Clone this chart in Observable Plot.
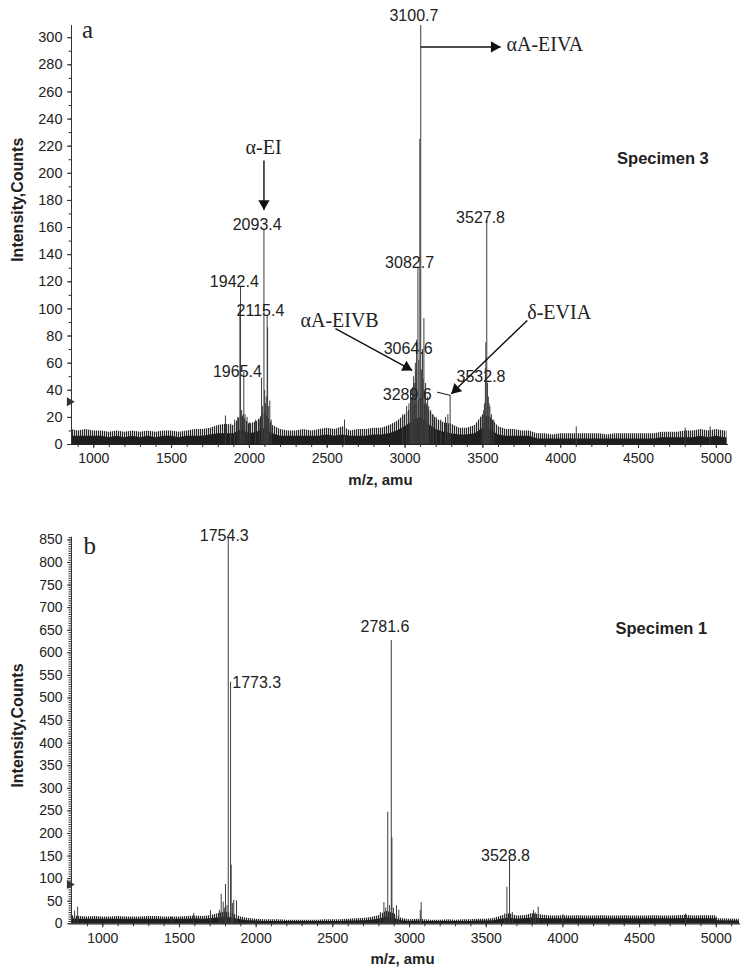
<!DOCTYPE html>
<html><head><meta charset="utf-8">
<script src="https://cdn.jsdelivr.net/npm/d3@7"></script>
<script src="https://cdn.jsdelivr.net/npm/@observablehq/plot@0.6"></script>
<style>
body{margin:0;background:#fff;}
#chart svg{display:block;}
</style>
</head><body>
<svg width="0" height="0" style="position:absolute">
  <defs>
    <pattern id="vlines" width="2" height="6" patternUnits="userSpaceOnUse">
      <rect x="0" y="0" width="1.2" height="6" fill="#262626"></rect>
    </pattern>
  </defs>
</svg>
<div id="chart"></div>
<script>
// ---------- data ----------
const xTickValues = [1000, 1500, 2000, 2500, 3000, 3500, 4000, 4500, 5000];
const topYTickValues = [0, 20, 40, 60, 80, 100, 120, 140, 160, 180, 200, 220, 240, 260, 280, 300];
const botYTickValues = [0, 50, 100, 150, 200, 250, 300, 350, 400, 450, 500, 550, 600, 650, 700, 750, 800, 850];

// Specimen 3 (panel a) peaks
const topPeakMz  = [1846, 1880, 1905, 1925, 1939, 1943, 1950, 1960, 1964, 1972, 1985, 2000, 2040, 2063, 2078, 2085, 2093.4, 2098, 2103, 2108, 2114, 2117, 2124, 2131, 2140, 2611,
                    2985, 3010, 3025, 3035, 3042, 3048, 3055, 3060, 3066, 3070, 3074, 3082.7, 3088, 3095, 3100.7, 3105, 3112, 3116, 3121, 3127, 3132, 3138, 3145, 3152, 3165, 3180, 3200, 3230, 3260, 3275, 3289.6,
                    3495, 3505, 3510, 3516, 3519, 3525, 3530, 3535, 3540, 3545, 3555, 3570, 4100, 4800, 4960];
const topPeakInt = [21, 15, 18, 20, 100, 116, 25, 22, 53, 22, 20, 16, 18, 18, 49, 28, 158, 40, 30, 35, 95, 86, 28, 32, 18, 18,
                    22, 28, 30, 40, 35, 42, 50, 45, 60, 55, 77, 130, 62, 225, 309, 55, 70, 48, 93, 38, 45, 30, 35, 28, 25, 22, 20, 18, 20, 22, 36,
                    20, 25, 30, 56, 75, 165, 45, 35, 30, 28, 22, 18, 13, 12, 13];

// Specimen 3 baseline noise envelope
const topNoiseMz   = [857, 900, 950, 1000, 1050, 1100, 1150, 1200, 1250, 1300, 1350, 1400, 1450, 1500, 1550, 1600, 1650, 1700, 1750, 1800, 1850, 1900, 1950, 2000, 2050, 2100, 2150, 2200, 2250, 2300, 2350, 2400, 2450, 2500, 2550, 2600, 2650, 2700, 2750, 2800, 2850, 2900, 2950, 3000, 3050, 3100, 3150, 3200, 3250, 3300, 3350, 3400, 3450, 3500, 3550, 3600, 3650, 3700, 3750, 3800, 3850, 3900, 3950, 4000, 4050, 4100, 4150, 4200, 4250, 4300, 4350, 4400, 4450, 4500, 4550, 4600, 4650, 4700, 4750, 4800, 4850, 4900, 4950, 5000, 5050, 5068];
const topNoiseHi   = [11, 10, 11, 10, 10, 9, 10, 9, 10, 9, 10, 9, 10, 10, 9, 10, 11, 11, 12, 14, 15, 14, 22, 15, 17, 24, 14, 11, 10, 10, 11, 10, 11, 12, 11, 13, 10, 11, 11, 12, 12, 14, 17, 22, 28, 34, 26, 19, 16, 15, 12, 12, 14, 22, 20, 13, 11, 11, 10, 10, 8, 8, 7, 8, 8, 8, 8, 8, 8, 7, 8, 8, 8, 8, 8, 8, 9, 9, 9, 10, 10, 11, 10, 11, 10, 10];
const topNoiseCore = [6, 6, 6, 6, 6, 5, 6, 5, 6, 5, 6, 5, 6, 6, 5, 6, 6, 6, 7, 8, 8, 8, 11, 8, 9, 12, 8, 6, 6, 6, 6, 6, 6, 7, 6, 7, 6, 6, 6, 7, 7, 8, 10, 13, 17, 20, 15, 11, 9, 8, 7, 7, 8, 12, 11, 7, 6, 6, 6, 6, 4, 4, 4, 4, 4, 4, 4, 4, 4, 4, 4, 4, 4, 4, 4, 4, 5, 5, 5, 5, 5, 6, 5, 6, 5, 5];

// Specimen 1 (panel b) peaks
const botPeakMz  = [816, 836, 1450, 1593, 1702, 1760, 1772, 1785, 1792, 1800, 1810, 1818, 1833, 1837, 1845, 1854, 1872, 2810, 2833, 2845, 2858, 2870, 2881, 2885, 2895, 2915, 2930, 3070, 3076, 3620, 3635, 3652, 3670, 3790, 3808, 3820, 3839, 4000, 4800];
const botPeakInt = [28, 37, 15, 23, 29, 30, 65, 48, 35, 87, 40, 853, 535, 130, 45, 52, 51, 25, 47, 35, 247, 40, 627, 190, 35, 40, 30, 30, 47, 22, 81, 144, 25, 22, 30, 24, 37, 20, 22];

// Specimen 1 baseline noise envelope
const botNoiseMz   = [796, 850, 900, 950, 1000, 1050, 1100, 1150, 1200, 1250, 1300, 1350, 1400, 1450, 1500, 1550, 1600, 1650, 1700, 1750, 1800, 1850, 1900, 1950, 2000, 2050, 2100, 2150, 2200, 2250, 2300, 2350, 2400, 2450, 2500, 2550, 2600, 2650, 2700, 2750, 2800, 2850, 2900, 2950, 3000, 3050, 3100, 3150, 3200, 3250, 3300, 3350, 3400, 3450, 3500, 3550, 3600, 3650, 3700, 3750, 3800, 3850, 3900, 3950, 4000, 4050, 4100, 4150, 4200, 4250, 4300, 4350, 4400, 4450, 4500, 4550, 4600, 4650, 4700, 4750, 4800, 4850, 4900, 4950, 5000, 5010, 5150];
const botNoiseHi   = [18, 16, 15, 16, 15, 15, 16, 15, 15, 15, 16, 16, 15, 15, 15, 16, 17, 16, 18, 22, 26, 22, 15, 12, 10, 9, 9, 9, 8, 8, 8, 8, 8, 9, 9, 9, 10, 11, 12, 14, 18, 28, 22, 12, 9, 10, 9, 8, 8, 9, 8, 9, 9, 10, 10, 12, 17, 22, 17, 18, 22, 20, 18, 17, 18, 17, 18, 17, 17, 18, 17, 17, 18, 17, 17, 17, 18, 17, 17, 18, 19, 17, 18, 18, 18, 11, 10];
const botNoiseCore = [11, 10, 10, 10, 10, 10, 10, 10, 10, 10, 10, 10, 10, 10, 10, 10, 11, 10, 11, 13, 15, 13, 9, 7, 6, 5, 5, 5, 5, 5, 5, 5, 5, 5, 5, 5, 6, 6, 7, 8, 10, 15, 12, 7, 5, 6, 5, 5, 5, 5, 5, 5, 5, 6, 6, 7, 10, 13, 10, 11, 13, 12, 11, 11, 11, 11, 11, 11, 11, 11, 11, 11, 11, 11, 11, 11, 11, 11, 11, 11, 12, 11, 11, 11, 11, 7, 6];

// annotations (data coordinates: m/z, intensity)
const topPeakLabels = [
  {text: "3100.7", mz: 3057, y: 312},
  {text: "2093.4", mz: 2050, y: 158},
  {text: "3527.8", mz: 3485, y: 163},
  {text: "1942.4", mz: 1903, y: 116},
  {text: "2115.4", mz: 2071, y: 95},
  {text: "1965.4", mz: 1923, y: 49.7},
  {text: "3082.7", mz: 3029, y: 130},
  {text: "3064.6", mz: 3020, y: 67},
  {text: "3289.6", mz: 3014, y: 32.5},
  {text: "3532.8", mz: 3488, y: 46}
];
const topNames = [
  {text: "α-EI", mz: 2091, y: 214.5, anchor: "middle"},
  {text: "αA-EIVA", mz: 3652, y: 290, anchor: "start"},
  {text: "αA-EIVB", mz: 2328, y: 86.6, anchor: "start"},
  {text: "δ-EVIA", mz: 3785, y: 92.7, anchor: "start"}
];
const topArrows = [
  {x1: 2093.4, y1: 209.5, x2: 2093.4, y2: 173, head: true},
  {x1: 3100.7, y1: 293.2, x2: 3614, y2: 293.2, head: true},
  {x1: 2553, y1: 85.4, x2: 3046, y2: 54.6, head: true},
  {x1: 3785, y1: 91.5, x2: 3297, y2: 37.4, head: true},
  {x1: 3206, y1: 38.6, x2: 3292, y2: 36.2, head: false}
];
const botPeakLabels = [
  {text: "1754.3", mz: 1792, y: 847, anchor: "middle"},
  {text: "1773.3", mz: 1844, y: 522.6, anchor: "start"},
  {text: "2781.6", mz: 2840, y: 645.7, anchor: "middle"},
  {text: "3528.8", mz: 3626, y: 140, anchor: "middle"}
];

const SANS = "Liberation Sans, Arial, Helvetica, sans-serif";
const SERIF = "Liberation Serif, Times New Roman, serif";
const INK = "#222";

function rows(mz, a, b) { return mz.map((m, i) => ({mz: m, hi: a[i], core: b ? b[i] : 0})); }

function panel(cfg) {
  const {W, H, ml, mr, mt, mb, xd, yd, yMinorStep, yTickFont} = cfg;
  const sx = d3.scaleLinear(xd, [ml, W - mr]);
  const sy = d3.scaleLinear(yd, [H - mb, mt]);
  const peaks = rows(cfg.peakMz, cfg.peakInt);
  const noise = rows(cfg.noiseMz, cfg.noiseHi, cfg.noiseCore);
  const marks = [
    Plot.axisY(d3.range(0, yd[1], yMinorStep), {tickSize: 2.5, tickFormat: () => "", stroke: "#333", label: null}),
    Plot.axisY(cfg.yTicks, {tickSize: 4, tickPadding: 5, fontSize: yTickFont, fill: INK, stroke: "#333", label: null}),
    Plot.axisX(d3.range(900, xd[1], 100), {tickSize: 3, tickFormat: () => "", stroke: "#333", label: null}),
    Plot.axisX(xTickValues, {tickSize: 4, tickPadding: 5, fontSize: 14, tickFormat: d => String(d), fill: INK, stroke: "#333", label: null}),
    Plot.areaY(noise, {x: "mz", y1: 0, y2: "hi", fill: "url(#vlines)"}),
    Plot.areaY(noise, {x: "mz", y1: 0, y2: "core", fill: "#1f1f1f"}),
    Plot.ruleX(peaks, {x: "mz", y1: 0, y2: "hi", stroke: "#3c3c3c", strokeWidth: 1}),
    Plot.ruleX([xd[0]], {stroke: "#333", strokeWidth: 1}),
    Plot.ruleY([0], {stroke: "#222", strokeWidth: 1.2}),
    Plot.dot([cfg.marker], {x: "mz", y: "y", symbol: "triangle", r: 3.4, fill: "#333", rotate: 90, dx: -2}),
    Plot.text(cfg.peakLabels, {x: "mz", y: "y", text: "text", textAnchor: "middle", lineAnchor: "bottom", fontSize: 16, fontFamily: SANS, fill: INK}),
    Plot.text([cfg.letter], {x: "mz", y: "y", text: "text", textAnchor: "start", lineAnchor: "bottom", fontSize: 25, fontFamily: SERIF, fill: INK}),
    Plot.text([cfg.specimen], {x: "mz", y: "y", text: "text", textAnchor: "start", lineAnchor: "bottom", fontSize: 16.5, fontWeight: "bold", fontFamily: SANS, fill: INK}),
    Plot.text([cfg.xLabel], {x: "mz", y: "y", text: "text", textAnchor: "middle", lineAnchor: "bottom", fontSize: 15, fontWeight: "bold", fontFamily: SANS, fill: INK}),
    Plot.text([cfg.yLabel], {x: "mz", y: "y", text: "text", textAnchor: "middle", lineAnchor: "middle", rotate: -90, fontSize: 16, fontWeight: "bold", fontFamily: SANS, fill: INK})
  ];
  if (cfg.startLabels) {
    marks.push(Plot.text(cfg.startLabels, {x: "mz", y: "y", text: "text", textAnchor: "start", lineAnchor: "bottom", fontSize: 16, fontFamily: SANS, fill: INK}));
  }
  if (cfg.names) {
    for (const anchor of ["start", "middle"]) {
      marks.push(Plot.text(cfg.names.filter(d => d.anchor === anchor), {x: "mz", y: "y", text: "text", textAnchor: anchor, lineAnchor: "bottom", fontSize: 20, fontFamily: SERIF, fill: INK}));
    }
  }
  for (const a of (cfg.arrows || [])) {
    marks.push(Plot.link([a], {x1: "x1", y1: "y1", x2: "x2", y2: "y2", stroke: "#111", strokeWidth: a.head ? 1.4 : 1}));
    if (a.head) {
      const ang = Math.atan2(sy(a.y2) - sy(a.y1), sx(a.x2) - sx(a.x1));
      const back = 6.4;
      marks.push(Plot.dot([a], {x: "x2", y: "y2", symbol: "triangle", r: 4.2, fill: "#111", stroke: "none",
        rotate: ang * 180 / Math.PI + 90, dx: -back * Math.cos(ang), dy: -back * Math.sin(ang)}));
    }
  }
  return Plot.plot({
    width: W, height: H,
    marginLeft: ml, marginRight: mr, marginTop: mt, marginBottom: mb,
    x: {domain: xd, label: null},
    y: {domain: yd, label: null},
    style: {fontFamily: SANS, background: "#fff", overflow: "visible"},
    marks
  });
}

const panelA = panel({
  W: 752, H: 490, ml: 71, mr: 24, mt: 25, mb: 46,
  xd: [857, 5078], yd: [0, 309], yMinorStep: 10, yTickFont: 14.5,
  yTicks: topYTickValues,
  peakMz: topPeakMz, peakInt: topPeakInt,
  noiseMz: topNoiseMz, noiseHi: topNoiseHi, noiseCore: topNoiseCore,
  peakLabels: topPeakLabels, names: topNames, arrows: topArrows,
  marker: {mz: 857, y: 31.5},
  letter: {text: "a", mz: 925, y: 300},
  specimen: {text: "Specimen 3", mz: 4362, y: 207},
  xLabel: {text: "m/z, amu", mz: 2842, y: -30},
  yLabel: {text: "Intensity,Counts", mz: 513, y: 180.5}
});

const panelB = panel({
  W: 752, H: 487, ml: 71, mr: 12, mt: 46.7, mb: 53.7,
  xd: [796, 5158], yd: [0, 856], yMinorStep: 5, yTickFont: 14,
  yTicks: botYTickValues,
  peakMz: botPeakMz, peakInt: botPeakInt,
  noiseMz: botNoiseMz, noiseHi: botNoiseHi, noiseCore: botNoiseCore,
  peakLabels: botPeakLabels.filter(d => d.anchor === "middle"),
  startLabels: botPeakLabels.filter(d => d.anchor === "start"),
  marker: {mz: 796, y: 87},
  letter: {text: "b", mz: 874, y: 819},
  specimen: {text: "Specimen 1", mz: 4343, y: 640.6},
  xLabel: {text: "m/z, amu", mz: 2954, y: -90},
  yLabel: {text: "Intensity,Counts", mz: 447, y: 439}
});

document.getElementById("chart").append(panelA, panelB);
</script>
</body></html>
